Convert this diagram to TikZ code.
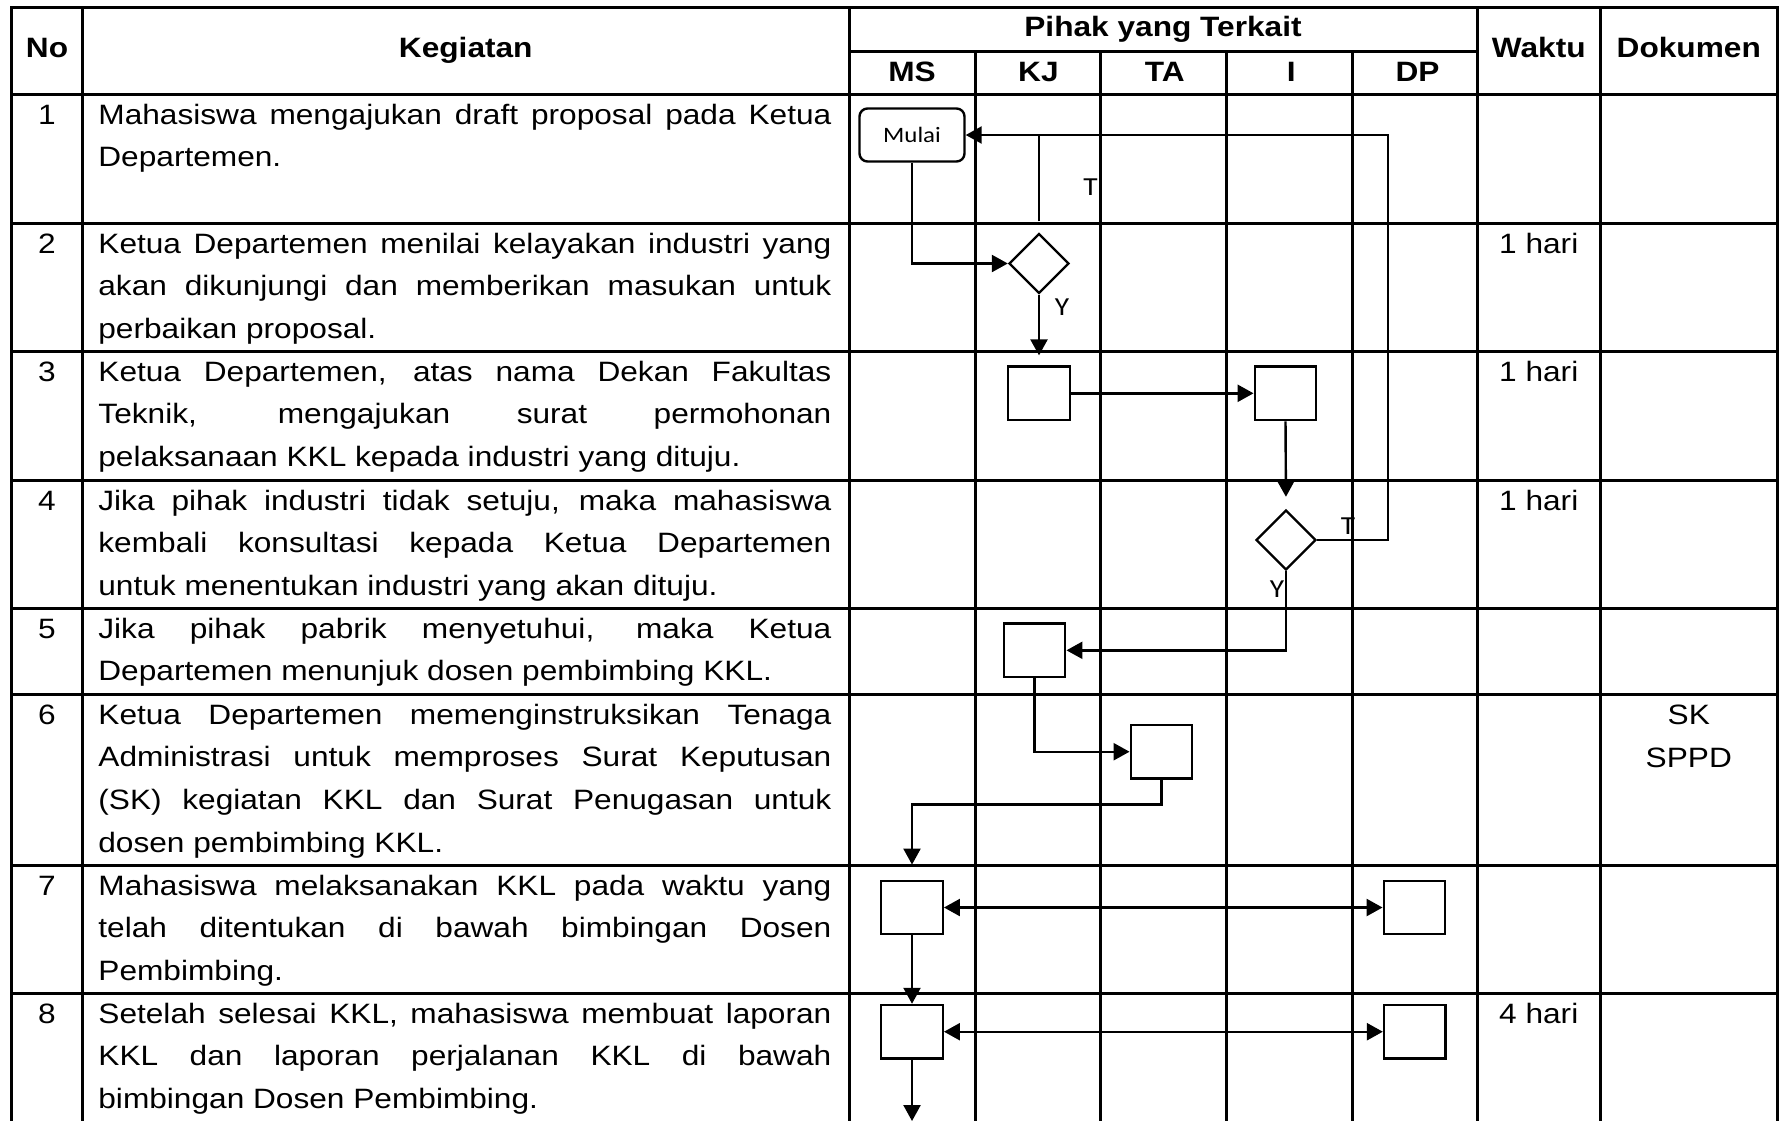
\documentclass[tikz,border=0pt]{standalone}
\usepackage{fontspec}
\setmainfont{Liberation Sans}[FakeStretch=1.13]
\newfontfamily\labelfont{Carlito}[FakeStretch=1.13]
\usetikzlibrary{arrows.meta,shapes.geometric,positioning}
\hyphenpenalty=10000
\exhyphenpenalty=10000
\tolerance=10000
\hbadness=10000

\begin{document}
\begin{tikzpicture}[x=0.5pt,y=-0.5pt]
	\useasboundingbox (0,0) rectangle (1780,1120);

	\edef\boxw{30.75pt}
	\edef\boxh{26.75pt}
	\tikzstyle{grid}=[line width=1.5pt,line cap=rect]
	\tikzstyle{flow}=[draw,line width=1.2pt]
	\tikzstyle{l}=[flow,-{Triangle[length=8pt,width=8.5pt]}]
	\tikzstyle{lb}=[flow,{Triangle[length=8pt,width=8.5pt]}-{Triangle[length=8pt,width=8.5pt]}]
	\tikzstyle{proc}=[flow,minimum width=\boxw,minimum height=\boxh,inner sep=0pt]
	\tikzstyle{dec}=[flow,diamond,minimum width=30pt,minimum height=30pt,inner sep=0pt]
	\tikzstyle{term}=[flow,rounded corners=4pt,minimum width=52.5pt,minimum height=26.5pt,inner sep=0pt,font=\labelfont\fontsize{11}{13}\selectfont]
	\tikzstyle{yt}=[inner sep=0pt,font=\labelfont\fontsize{13}{15}\selectfont]
	\tikzstyle{head}=[anchor=base,inner sep=0pt,font=\bfseries\fontsize{14}{16}\selectfont]
	\tikzstyle{lane}=[head,minimum width=62.8pt]
	\tikzstyle{txt}=[anchor=base west,inner sep=0pt,text width=366.5pt,align=justify,font=\fontsize{14}{21.35}\selectfont]
	\tikzstyle{cell}=[anchor=base,inner sep=0pt,font=\fontsize{14}{21.35}\selectfont]

	%% Table lines
	\draw[grid] (11.5,7) -- (1777,7);
	\draw[grid] (849,51) -- (1477,51);
	\foreach \y in {94,223,351,480,608,694,865,993}
		\draw[grid] (11.5,\y) -- (1777,\y);
	\foreach \x in {11.5,82.5,849,1477,1600.5,1777}
		\draw[grid] (\x,7) -- (\x,1125);
	\foreach \x in {975,1100,1226,1352}
		\draw[grid] (\x,51) -- (\x,1125);

	%% Header
	\node[head] (no) at (47,57) {No};
	\node[head] (keg) at (465.75,57) {Kegiatan};
	\node[head] (pihak) at (1163,36) {Pihak yang Terkait};
	\node[head] (waktu) at (1538.75,57) {Waktu};
	\node[head] (dok) at (1688.75,57) {Dokumen};
	\node[lane] (ms) at (912,81) {MS};
	\node[lane,base right=0pt of ms] (kj) {KJ};
	\node[lane,base right=0pt of kj] (ta) {TA};
	\node[lane,base right=0pt of ta] (ins) {I};
	\node[lane,base right=0pt of ins] (dp) {DP};

	%% Rows
	\node[cell] (no1) at (47,124) {1};
	\node[txt] (keg1) at (98,124) {Mahasiswa mengajukan draft proposal pada Ketua\linebreak Departemen.};
	\node[cell] (no2) at (47,253) {2};
	\node[txt] (keg2) at (98,253) {Ketua Departemen menilai kelayakan industri yang\linebreak akan dikunjungi dan memberikan masukan untuk\linebreak perbaikan proposal.};
	\node[cell] (no3) at (47,381) {3};
	\node[txt] (keg3) at (98,381) {Ketua Departemen, atas nama Dekan Fakultas\linebreak Teknik, mengajukan surat permohonan\linebreak pelaksanaan KKL kepada industri yang dituju.};
	\node[cell] (no4) at (47,510) {4};
	\node[txt] (keg4) at (98,510) {Jika pihak industri tidak setuju, maka mahasiswa\linebreak kembali konsultasi kepada Ketua Departemen\linebreak untuk menentukan industri yang akan dituju.};
	\node[cell] (no5) at (47,638) {5};
	\node[txt] (keg5) at (98,638) {Jika pihak pabrik menyetuhui, maka Ketua\linebreak Departemen menunjuk dosen pembimbing KKL.};
	\node[cell] (no6) at (47,724) {6};
	\node[txt] (keg6) at (98,724) {Ketua Departemen memenginstruksikan Tenaga\linebreak Administrasi untuk memproses Surat Keputusan\linebreak (SK) kegiatan KKL dan Surat Penugasan untuk\linebreak dosen pembimbing KKL.};
	\node[cell] (no7) at (47,895) {7};
	\node[txt] (keg7) at (98,895) {Mahasiswa melaksanakan KKL pada waktu yang\linebreak telah ditentukan di bawah bimbingan Dosen\linebreak Pembimbing.};
	\node[cell] (no8) at (47,1023) {8};
	\node[txt] (keg8) at (98,1023) {Setelah selesai KKL, mahasiswa membuat laporan\linebreak KKL dan laporan perjalanan KKL di bawah\linebreak bimbingan Dosen Pembimbing.};

	\node[cell] (wkt2) at (1538.75,253) {1 hari};
	\node[cell] (wkt3) at (1538.75,381) {1 hari};
	\node[cell] (wkt4) at (1538.75,510) {1 hari};
	\node[cell] (wkt8) at (1538.75,1023) {4 hari};
	\node[cell] (dok6a) at (1688.75,724) {SK};
	\node[cell] (dok6b) at (1688.75,767) {SPPD};

	%% Flow
	\node[term] (mulai) at (912,135) {Mulai};
	\node[dec] (d1) at (1039,263.5) {};
	\node[proc] (kj3) at (1039,393.3) {};
	\node[proc] (in3) at (1285.5,393.3) {};
	\node[dec] (d2) at (1286,540) {};
	\node[proc] (kj5) at (1034.5,650.3) {};
	\node[proc] (ta6) at (1161.5,751.7) {};
	\node[proc] (ms7) at (912,907.5) {};
	\node[proc] (dp7) at (1414.5,907.5) {};
	\node[proc] (ms8) at (912,1031.7) {};
	\node[proc] (dp8) at (1414.8,1031.7) {};

	\node[yt] (t1) at (1090.5,186.7) {T};
	\node[yt] (y1) at (1062,307) {Y};
	\node[yt] (t2) at (1348,526) {T};
	\node[yt] (y2) at (1277,589) {Y};

	\coordinate (tret) at (1388,135);
	\coordinate (out8) at (912,1121);

	\draw[l] (mulai.south) |- (d1.west);
	\draw[flow,shorten <=5.5pt] (d1.north) -- (d1.north |- mulai.east);
	\draw[l,shorten >=5pt] (d1.south) -- (kj3.north);
	\draw[l] (kj3.east) -- (in3.west);
	\draw[l,shorten >=6pt] (in3.south) -- (d2.north);
	\draw[l] (d2.east) -| (tret) -- (mulai.east);
	\draw[l] (d2.south) |- (kj5.east);
	\draw[l] (kj5.south) |- (ta6.west);
	\draw[l,shorten >=7.5pt] (ta6.south) -- ++(0,25) -| (ms7.north);
	\draw[lb] (ms7.east) -- (dp7.west);
	\draw[l] (ms7.south) -- (ms8.north);
	\draw[lb] (ms8.east) -- (dp8.west);
	\draw[l] (ms8.south) -- (out8);
\end{tikzpicture}
\end{document}
